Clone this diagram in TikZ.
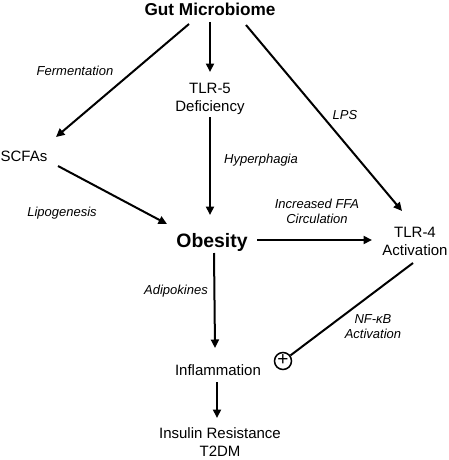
\documentclass[tikz,border=0pt]{standalone}
\usepackage{fontspec}
\setmainfont{Liberation Sans}
\usetikzlibrary{arrows.meta,calc}
\begin{document}
\begin{tikzpicture}[x=1pt,y=-1pt,
  txt/.style={font=\fontsize{15}{18}\selectfont, align=center, inner sep=0pt},
  big/.style={font=\fontsize{17.2}{20}\selectfont\bfseries, inner sep=0pt},
  bigger/.style={font=\fontsize{19.4}{22}\selectfont\bfseries, inner sep=0pt},
  lbl/.style={font=\fontsize{13}{15}\selectfont\itshape, align=center, inner sep=0pt},
  conn/.style={line width=2pt, -{Triangle[length=8.5pt,width=8pt]}},
  plain/.style={line width=2pt},
  plusc/.style={circle, draw, line width=1.5pt, minimum size=17pt, inner sep=0pt, font=\fontsize{19}{19}\selectfont}]
\useasboundingbox (0,0) rectangle (448,460);
\node[big] (gut) at (210,9) {Gut Microbiome};
\node[txt] (tlr5) at (210,99) {TLR-5\\Deficiency};
\node[txt] (scfa) at (24,156) {SCFAs};
\node[bigger] (obes) at (212,242) {Obesity};
\node[txt] (tlr4) at (415,241) {TLR-4\\Activation};
\node[txt] (infl) at (218,370) {Inflammation};
\node[txt] (ins) at (220,442) {Insulin Resistance\\T2DM};
\node[plusc] (plus) at (283,361) {\raisebox{1pt}{+}};

\node[lbl] (l1) at (75,71) {Fermentation};
\node[lbl] (l2) at (345,115) {LPS};
\node[lbl] (l3) at (261,160) {Hyperphagia};
\node[lbl] (l4) at (62,213) {Lipogenesis};
\node[lbl] (l5) at (317,211) {Increased FFA\\Circulation};
\node[lbl] (l6) at (176,291) {Adipokines};
\node[lbl] (l7) at (373,327) {NF-κB\\Activation};

\draw[conn] ($(gut)+(-21,15)$) -- ($(scfa)+(32,-19)$);
\draw[conn] ($(gut)+(0,13)$) -- ($(tlr5)+(0,-27)$);
\draw[conn] ($(gut)+(36,16)$) -- ($(tlr4)+(-13,-30)$);
\draw[conn] ($(tlr5)+(0,18)$) -- ($(obes)+(-2,-27)$);
\draw[conn] ($(scfa)+(34,10)$) -- ($(obes)+(-45,-18)$);
\draw[conn] ($(obes)+(45,-2)$) -- ($(tlr4)+(-43,-1)$);
\draw[conn] ($(obes)+(2,11)$) -- ($(infl)+(-3,-22)$);
\draw[conn] ($(infl)+(-1,12)$) -- ($(ins)+(-3,-24)$);
\draw[plain] ($(tlr4)+(-2,22)$) -- (plus);
\end{tikzpicture}
\end{document}
